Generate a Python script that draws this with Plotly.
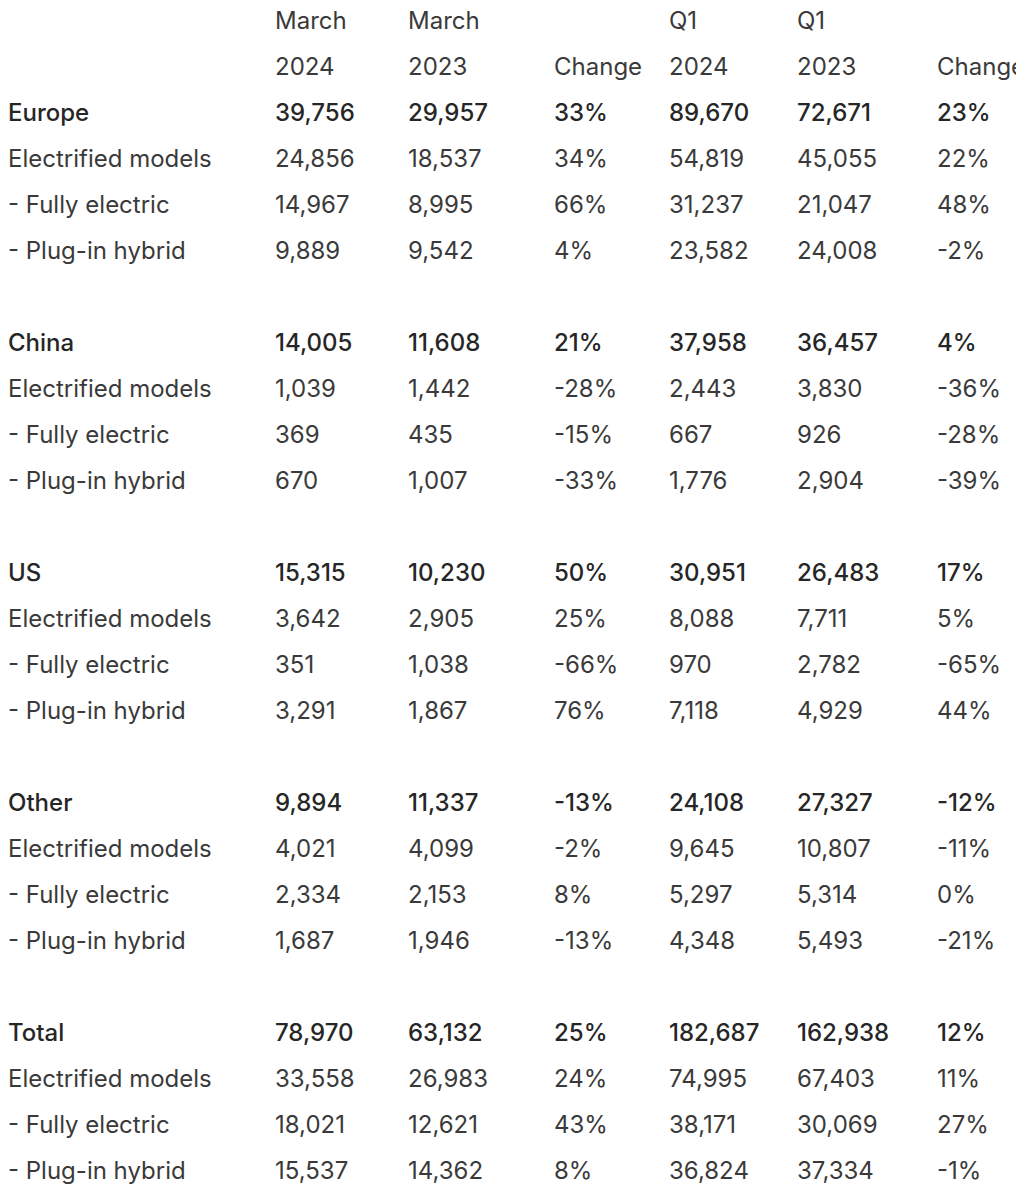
import plotly.graph_objects as go

# ---------------- data ----------------
regions = ["Europe", "China", "US", "Other", "Total"]
sub_rows = ["Electrified models", "- Fully electric", "- Plug-in hybrid"]
header_top = ["March", "March", "", "Q1", "Q1", ""]
header_bottom = ["2024", "2023", "Change", "2024", "2023", "Change"]

# per region: [total, electrified, fully electric, plug-in hybrid]
march_2024 = [39756, 24856, 14967, 9889,
              14005, 1039, 369, 670,
              15315, 3642, 351, 3291,
              9894, 4021, 2334, 1687,
              78970, 33558, 18021, 15537]
march_2023 = [29957, 18537, 8995, 9542,
              11608, 1442, 435, 1007,
              10230, 2905, 1038, 1867,
              11337, 4099, 2153, 1946,
              63132, 26983, 12621, 14362]
march_change = [33, 34, 66, 4,
                21, -28, -15, -33,
                50, 25, -66, 76,
                -13, -2, 8, -13,
                25, 24, 43, 8]
q1_2024 = [89670, 54819, 31237, 23582,
           37958, 2443, 667, 1776,
           30951, 8088, 970, 7118,
           24108, 9645, 5297, 4348,
           182687, 74995, 38171, 36824]
q1_2023 = [72671, 45055, 21047, 24008,
           36457, 3830, 926, 2904,
           26483, 7711, 2782, 4929,
           27327, 10807, 5314, 5493,
           162938, 67403, 30069, 37334]
q1_change = [23, 22, 48, -2,
             4, -36, -28, -39,
             17, 5, -65, 44,
             -12, -11, 0, -21,
             12, 11, 27, -1]

# ---------------- layout constants ----------------
W, H = 1024, 1200
col_x = [0, 267, 400, 546, 661, 789, 929]
row_h = 46
row0 = 15
FONT = "Inter, DejaVu Sans, sans-serif"
FS = 24
COLOR_N = "#3a3a3a"
COLOR_B = "#262626"


def row_y(idx):
    return row0 + row_h * idx


def fmt_n(v):
    return f"{v:,}"


def fmt_p(v):
    return f"{v}%"


columns = [march_2024, march_2023, march_change, q1_2024, q1_2023, q1_change]
formats = [fmt_n, fmt_n, fmt_p, fmt_n, fmt_n, fmt_p]

# headers
hx, hy, ht = [], [], []
for c in range(6):
    for r, lab in enumerate([header_top[c], header_bottom[c]]):
        if lab:
            hx.append(col_x[c + 1])
            hy.append(row_y(r))
            ht.append(lab)

bx, by, bt = [], [], []  # bold rows
nx, ny, nt = [], [], []  # normal rows
for i, reg in enumerate(regions):
    for k in range(4):
        idx = 2 + i * 5 + k
        y = row_y(idx)
        label = reg if k == 0 else sub_rows[k - 1]
        tx, ty, tt = (bx, by, bt) if k == 0 else (nx, ny, nt)
        tx.append(col_x[0]); ty.append(y); tt.append(label)
        for c in range(6):
            tx.append(col_x[c + 1]); ty.append(y)
            tt.append(formats[c](columns[c][i * 4 + k]))

fig = go.Figure()
fig.add_trace(go.Scatter(x=hx, y=hy, text=ht, mode="text", textposition="middle right",
                         textfont=dict(family=FONT, size=FS, color=COLOR_N),
                         hoverinfo="skip", showlegend=False, cliponaxis=False))
fig.add_trace(go.Scatter(x=nx, y=ny, text=nt, mode="text", textposition="middle right",
                         textfont=dict(family=FONT, size=FS, color=COLOR_N),
                         hoverinfo="skip", showlegend=False, cliponaxis=False))
fig.add_trace(go.Scatter(x=bx, y=by, text=bt, mode="text", textposition="middle right",
                         textfont=dict(family=FONT, size=FS, color=COLOR_B, weight=500),
                         hoverinfo="skip", showlegend=False, cliponaxis=False))

fig.update_layout(
    width=W, height=H,
    margin=dict(l=0, r=0, t=0, b=0),
    paper_bgcolor="white", plot_bgcolor="white",
    xaxis=dict(range=[0, W], visible=False, fixedrange=True),
    yaxis=dict(range=[H, 0], visible=False, fixedrange=True),
)
fig.write_html("out.html")
